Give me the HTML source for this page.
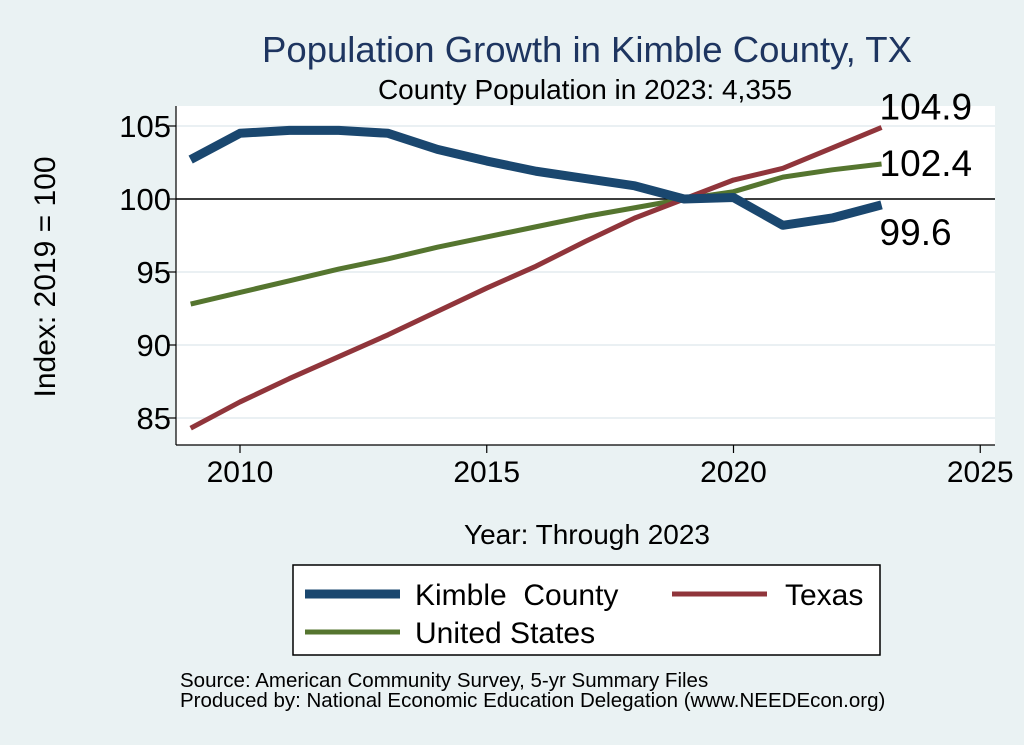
<!DOCTYPE html>
<html><head><meta charset="utf-8">
<style>
body{margin:0;background:#eaf2f3;}
svg{display:block;font-family:"Liberation Sans",sans-serif;}
</style></head>
<body>
<svg id="chart" width="1024" height="745">
<rect x="0" y="0" width="1024" height="745" fill="#eaf2f3"/>
<text x="587" y="62" font-size="36.5" fill="#1e3560" text-anchor="middle">Population Growth in Kimble County, TX</text>
<text x="585" y="99" font-size="28" fill="#000" text-anchor="middle">County Population in 2023: 4,355</text>
<rect x="176" y="106" width="819" height="339" fill="#fff"/>
<g id="grid"></g>
<g id="axes"></g>
<g id="series"></g>
<text transform="translate(55,277) rotate(-90)" font-size="30" text-anchor="middle">Index: 2019 = 100</text>
<text x="587" y="544" font-size="28" text-anchor="middle">Year: Through 2023</text>
<g>
<rect x="293" y="565" width="587" height="90" fill="#fff" stroke="#000" stroke-width="1.5"/>
<line x1="305" y1="594" x2="400" y2="594" stroke="#1a476f" stroke-width="9"/>
<text x="415" y="605" font-size="30" style="white-space:pre">Kimble  County</text>
<line x1="672" y1="594" x2="767" y2="594" stroke="#90353b" stroke-width="5"/>
<text x="785" y="605" font-size="30">Texas</text>
<line x1="305" y1="632" x2="400" y2="632" stroke="#55752f" stroke-width="5"/>
<text x="415" y="643" font-size="30">United States</text>
</g>
<text x="180" y="687" font-size="20.5">Source: American Community Survey, 5-yr Summary Files</text>
<text x="180" y="707" font-size="20.5">Produced by: National Economic Education Delegation (www.NEEDEcon.org)</text>
</svg>
<script>
const years=[2009,2010,2011,2012,2013,2014,2015,2016,2017,2018,2019,2020,2021,2022,2023];
const kimble=[102.7,104.5,104.7,104.7,104.5,103.4,102.6,101.9,101.4,100.9,100.0,100.1,98.2,98.7,99.6];
const texas=[84.3,86.1,87.7,89.2,90.7,92.3,93.9,95.4,97.1,98.7,100.0,101.3,102.1,103.5,104.9];
const us=[92.8,93.6,94.4,95.2,95.9,96.7,97.4,98.1,98.8,99.4,100.0,100.5,101.5,102.0,102.4];
const xTicks=[2010,2015,2020,2025];
const yTicks=[85,90,95,100,105];

const NS="http://www.w3.org/2000/svg";
const X=v=>240+(v-2010)*49.35;
const Y=v=>199-(v-100)*14.6;
function mk(tag,attrs,parent){const e=document.createElementNS(NS,tag);for(const k in attrs)e.setAttribute(k,attrs[k]);parent.appendChild(e);return e;}
const grid=document.getElementById('grid'),axes=document.getElementById('axes'),series=document.getElementById('series');
yTicks.forEach(t=>{
  const g=mk('line',{x1:176,x2:995,y1:Y(t),y2:Y(t),stroke:'#e4ecef','stroke-width':1.5},grid);
  
  
  const tk=mk('line',{x1:168,x2:176,y1:Y(t),y2:Y(t),stroke:'#000','stroke-width':1.2},axes);
  
  
  const tx=mk('text',{x:171,y:Y(t)+11,'font-size':31,'text-anchor':'end'},axes);
  tx.textContent=t;
  
  
});
xTicks.forEach(t=>{
  const tk=mk('line',{x1:X(t),x2:X(t),y1:445,y2:453,stroke:'#000','stroke-width':1.2},axes);
  
  
  const tx=mk('text',{x:X(t),y:482,'font-size':30,'text-anchor':'middle'},axes);
  tx.textContent=t;
  
  
});
const ya=mk('line',{x1:176,x2:176,y1:106,y2:445,stroke:'#000','stroke-width':1.2},axes);


const xa=mk('line',{x1:176,x2:995,y1:445,y2:445,stroke:'#000','stroke-width':1.2},axes);


const ref=mk('line',{x1:176,x2:995,y1:Y(100),y2:Y(100),stroke:'#000','stroke-width':1.5},axes);


function line(vals,color,w,name){
  const p=mk('polyline',{points:vals.map((v,i)=>X(years[i])+','+Y(v)).join(' '),fill:'none',stroke:color,'stroke-width':w,'stroke-linejoin':'round'},series);
  
  
}
line(us,'#55752f',5,'line-united-states');
line(texas,'#90353b',5,'line-texas');
line(kimble,'#1a476f',9,'line-kimble-county');
const n=years.length-1;
[[texas[n],-8,'end-label-texas'],[us[n],12,'end-label-us'],[kimble[n],40,'end-label-kimble']].forEach(([v,dy,name])=>{
  const t=mk('text',{x:X(years[n])-2,y:Y(v)+dy,'font-size':37},series);
  t.textContent=v.toFixed(1);
  
  
});
</script>
</body></html>
